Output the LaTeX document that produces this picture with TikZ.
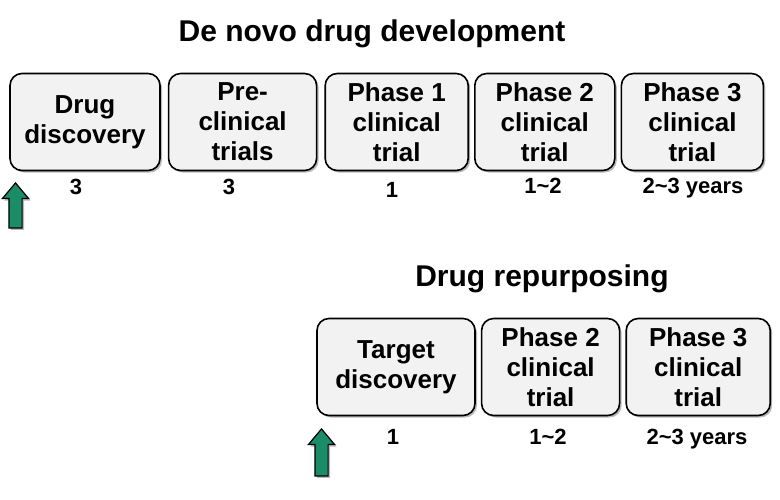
\documentclass[tikz,border=0pt]{standalone}
\usepackage{fontspec}
\setmainfont{Liberation Sans}
\usetikzlibrary{positioning,shadows,shapes.arrows}

\definecolor{boxgray}{RGB}{242,242,242}
\definecolor{startgreen}{RGB}{26,140,104}

\begin{document}
\begin{tikzpicture}[x=1pt, y=-1pt,
    every node/.style = {font=\bfseries},
    stage/.style = {draw, line width=1.6pt, rounded corners=12pt, fill=boxgray,
        align=center, inner sep=0pt, minimum height=97pt,
        font=\fontsize{26}{30}\selectfont\bfseries,
        drop shadow={shadow xshift=2pt, shadow yshift=-2pt, fill=black!55}},
    years/.style = {anchor=base, font=\fontsize{22}{26}\selectfont\bfseries},
    heading/.style = {font=\fontsize{30}{36}\selectfont\bfseries},
    start/.style = {single arrow, draw, line width=1.2pt, fill=startgreen,
        rotate=90, anchor=tip, inner sep=6pt, minimum width=25pt,
        single arrow head extend=6.5pt, single arrow tip angle=80,
        drop shadow={shadow xshift=2pt, shadow yshift=-2pt, fill=black!55}}]

    \useasboundingbox (0,0) rectangle (780,499);

    % de novo route
    \node [heading] (denovo) at (372,34) {De novo drug development};
    \node [stage, minimum width=150pt] (discovery) at (85,122) {Drug\\discovery};
    \node [stage, minimum width=148pt, right=7pt of discovery] (preclin) {Pre-\\clinical\\trials};
    \node [stage, minimum width=143pt, right=7pt of preclin] (phaseA) {Phase 1\\clinical\\trial};
    \node [stage, minimum width=140pt, right=5pt of phaseA] (phaseB) {Phase 2\\clinical\\trial};
    \node [stage, minimum width=142pt, right=5pt of phaseB] (phaseC) {Phase 3\\clinical\\trial};

    \node [years] (tDiscovery) at (76,194) {3};
    \node [years] (tPreclin) at (229,194) {3};
    \node [years] (tPhaseA) at (392,197) {1};
    \node [years] (tPhaseB) at (543,193) {1\textasciitilde2};
    \node [years] (tPhaseC) at (693,193) {2\textasciitilde3 years};

    \node [start, minimum height=45pt] (startA) at (15.5,182) {};

    % repurposing route
    \node [heading] (repurp) at (542,279) {Drug repurposing};
    \node [stage, minimum width=158pt] (target) at (396,367) {Target\\discovery};
    \node [stage, minimum width=138pt, right=5pt of target] (rPhaseB) {Phase 2\\clinical\\trial};
    \node [stage, minimum width=144pt, right=5pt of rPhaseB] (rPhaseC) {Phase 3\\clinical\\trial};

    \node [years] (tTarget) at (393,444) {1};
    \node [years] (tRPhaseB) at (548,444) {1\textasciitilde2};
    \node [years] (tRPhaseC) at (697,444) {2\textasciitilde3 years};

    \node [start, minimum height=47pt] (startB) at (321.5,428) {};

\end{tikzpicture}
\end{document}
